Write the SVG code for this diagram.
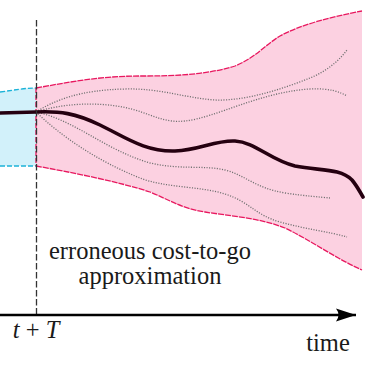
<svg xmlns="http://www.w3.org/2000/svg" width="369" height="369" viewBox="0 0 369 369">
<style>
.dot{fill:none;stroke:#707070;stroke-width:1.3;stroke-dasharray:1.1 1.5}
</style>
<defs>
<marker id="arr" markerUnits="userSpaceOnUse" markerWidth="24" markerHeight="16" refX="20" refY="7" orient="auto" viewBox="0 0 24 14">
<path d="M20,7 L0,0.5 Q5,7 0,13.5 Z" fill="#000"/>
</marker>
</defs>
<rect width="369" height="369" fill="#fff"/>
<g id="terminal-region">
<path d="M0,92 C15,90 25,88 36,88 L36,166 L0,166 Z" fill="#d2f1fa"/>
<path d="M0,92 C15,90 25,88 36,88" fill="none" stroke="#1cb3d8" stroke-width="1.3" stroke-dasharray="5 2"/>
<path d="M0,166 L36,166" fill="none" stroke="#1cb3d8" stroke-width="1.3" stroke-dasharray="5 2"/>
</g>
<g id="error-region">
<path d="M36,88 C70,82 100,76 140,76 C175,76 205,75 235,66 C255,58 265,45 280,36 C300,25 330,17 362,11 L362,270 C335,258 310,240 285,228 C260,218 230,216 205,212 C180,208 170,200 150,192 C120,182 70,172 36,166 Z" fill="#fcd1e1"/>
<path d="M36,88 C70,82 100,76 140,76 C175,76 205,75 235,66 C255,58 265,45 280,36 C300,25 330,17 362,11" fill="none" stroke="#e8185f" stroke-width="1.3" stroke-dasharray="6 1"/>
<path d="M36,166 C70,172 120,182 150,192 C170,200 180,208 205,212 C230,216 260,218 285,228 C310,240 335,258 362,270" fill="none" stroke="#e8185f" stroke-width="1.3" stroke-dasharray="6 1"/>
<path d="M36,88 L36,166" fill="none" stroke="#e8185f" stroke-width="1.3" stroke-dasharray="5 2"/>
</g>
<g id="trajectories">
<path class="dot" d="M36,112 C55,100 80,90 125,89 C160,88 185,98 215,100 C245,101 280,90 310,78 C325,72 338,62 347,50"/>
<path class="dot" d="M36,112 C60,104 100,100 135,110 C155,116 165,123 185,121 C215,118 260,92 310,89 C330,88 340,92 347,96"/>
<path class="dot" d="M36,112 C75,120 105,150 150,163 C180,170 205,165 225,170 C245,175 255,188 285,193 C305,196 320,197 330,198"/>
<path class="dot" d="M36,112 C60,135 95,160 140,178 C165,188 200,186 225,194 C250,202 255,215 280,222 C305,229 330,232 347,237"/>
<path d="M0,113 L36,112 C60,111 75,113 100,125 C125,137 145,152 175,151 C200,150 215,140 235,141 C255,142 270,160 295,166 C320,171 340,168 352,180 C357,186 360,192 363,197" fill="none" stroke="#250010" stroke-width="3.6" stroke-linecap="round"/>
</g>
<g id="connectors">
<path d="M36.5,20 L36.5,315" fill="none" stroke="#333" stroke-width="1.3" stroke-dasharray="6.5 2.5"/>
<path d="M0,315 L356,315" fill="none" stroke="#000" stroke-width="2.5" marker-end="url(#arr)"/>
</g>
<g id="labels" font-family="'Liberation Serif', 'Times New Roman', serif" font-size="24.5" fill="#1a1a1a">
<text x="150" y="259" text-anchor="middle">erroneous cost-to-go</text>
<text x="150" y="284" text-anchor="middle">approximation</text>
<text x="36" y="338" text-anchor="middle"><tspan font-style="italic">t</tspan> + <tspan font-style="italic">T</tspan></text>
<text x="328" y="351" text-anchor="middle">time</text>
</g>
</svg>
